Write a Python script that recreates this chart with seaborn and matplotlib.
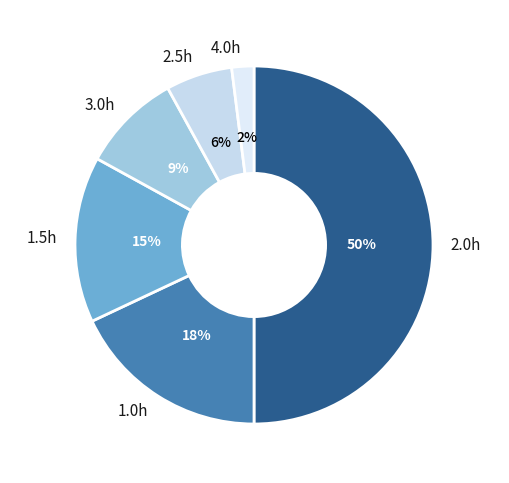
import matplotlib
matplotlib.use("Agg")
import matplotlib.pyplot as plt
import seaborn as sns

labels = ["2.0h", "1.0h", "1.5h", "3.0h", "2.5h", "4.0h"]
values = [50, 18, 15, 9, 6, 2]
colors = ["#2a5d8f", "#4682b4", "#6baed6", "#9ecae1", "#c6dbef", "#e1edfa"]
pct_colors = ["white", "white", "white", "white", "black", "black"]
pct_weights = ["bold", "bold", "bold", "bold", "medium", "medium"]

sns.set_theme(style="white")
plt.rcParams['font.family'] = ['Noto Sans CJK JP', 'DejaVu Sans']

fig = plt.figure(figsize=(5.10, 4.83), dpi=100)
ax = fig.add_axes([0.0593, 0.0295, 0.8775, 0.9265])
wedges, texts, autotexts = ax.pie(
    values, labels=labels, colors=colors, startangle=90, counterclock=False,
    autopct=lambda p: f"{p:.0f}%", pctdistance=0.6, labeldistance=1.1,
    wedgeprops=dict(width=0.6, edgecolor="white", linewidth=2),
    textprops=dict(fontsize=11, color="#1a1a1a"))
for t in texts:
    t.set_fontweight("normal")
for t, c, w in zip(autotexts, pct_colors, pct_weights):
    t.set_color(c)
    t.set_fontweight(w)
    t.set_fontsize(10)
ax.set_aspect("equal")
fig.savefig("out.png", dpi=100, facecolor="white")
